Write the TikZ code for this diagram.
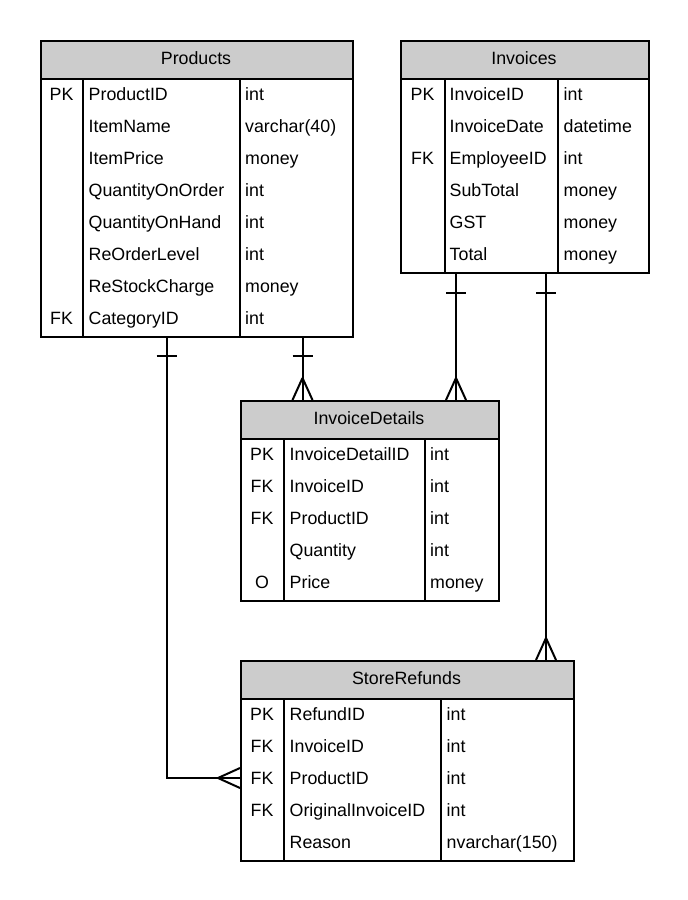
\documentclass[tikz,border=0pt]{standalone}
\usepackage{fontspec}
\setmainfont{Liberation Sans}
\definecolor{hdr}{HTML}{CCCCCC}
\tikzset{
  tbox/.style={draw=black, line width=2pt, anchor=north west, inner sep=0pt},
  hbox/.style={tbox, fill=hdr},
  cell/.style={inner sep=0pt, text height=12.7pt, text depth=0pt},
  keycell/.style={cell, anchor=center},
  namecell/.style={cell, anchor=west},
  conn/.style={line width=2pt, line cap=butt},
}
\begin{document}
\begin{tikzpicture}[x=1pt, y=-1pt, font=\fontsize{17.8}{21}\selectfont]
\useasboundingbox (0,0) rectangle (688,900);

% ---------- Products ----------
\node[hbox, minimum width=312pt, minimum height=38pt] (prodH) at (40,40) {};
\node[tbox, minimum width=312pt, minimum height=258pt] (prodB) at (40,78) {};
\node[cell] (prodT) at (196,58.5) {Products};
\draw[conn] (83,78) -- (83,336);
\draw[conn] (240,78) -- (240,336);
\foreach \k/\n/\t [count=\i from 0] in {PK/ProductID/int, /ItemName/varchar(40), /ItemPrice/money, /QuantityOnOrder/int, /QuantityOnHand/int, /ReOrderLevel/int, /ReStockCharge/money, FK/CategoryID/int}{
  \node[keycell] (prodK\i) at (61.5,{94.5+32*\i}) {\k};
  \node[namecell] (prodN\i) at (88.5,{94.5+32*\i}) {\n};
  \node[namecell] (prodY\i) at (245,{94.5+32*\i}) {\t};
}

% ---------- Invoices ----------
\node[hbox, minimum width=248pt, minimum height=38pt] (invH) at (400,40) {};
\node[tbox, minimum width=248pt, minimum height=194pt] (invB) at (400,78) {};
\node[cell] (invT) at (524,58.5) {Invoices};
\draw[conn] (445,78) -- (445,272);
\draw[conn] (558,78) -- (558,272);
\foreach \k/\n/\t [count=\i from 0] in {PK/InvoiceID/int, /InvoiceDate/datetime, FK/EmployeeID/int, /SubTotal/money, /GST/money, /Total/money}{
  \node[keycell] (invK\i) at (422.5,{94.5+32*\i}) {\k};
  \node[namecell] (invN\i) at (449.5,{94.5+32*\i}) {\n};
  \node[namecell] (invY\i) at (563.5,{94.5+32*\i}) {\t};
}

% ---------- InvoiceDetails ----------
\node[hbox, minimum width=258pt, minimum height=38pt] (idH) at (240,400) {};
\node[tbox, minimum width=258pt, minimum height=162pt] (idB) at (240,438) {};
\node[cell] (idT) at (369,418.5) {InvoiceDetails};
\draw[conn] (284,438) -- (284,600);
\draw[conn] (425,438) -- (425,600);
\foreach \k/\n/\t [count=\i from 0] in {PK/InvoiceDetailID/int, FK/InvoiceID/int, FK/ProductID/int, /Quantity/int, O/Price/money}{
  \node[keycell] (idK\i) at (262,{454.5+32*\i}) {\k};
  \node[namecell] (idN\i) at (289.5,{454.5+32*\i}) {\n};
  \node[namecell] (idY\i) at (430,{454.5+32*\i}) {\t};
}

% ---------- StoreRefunds ----------
\node[hbox, minimum width=333pt, minimum height=38pt] (srH) at (240,660) {};
\node[tbox, minimum width=333pt, minimum height=162pt] (srB) at (240,698) {};
\node[cell] (srT) at (406.5,678.5) {StoreRefunds};
\draw[conn] (284,698) -- (284,860);
\draw[conn] (441,698) -- (441,860);
\foreach \k/\n/\t [count=\i from 0] in {PK/RefundID/int, FK/InvoiceID/int, FK/ProductID/int, FK/OriginalInvoiceID/int, /Reason/nvarchar(150)}{
  \node[keycell] (srK\i) at (262,{714.5+32*\i}) {\k};
  \node[namecell] (srN\i) at (289.5,{714.5+32*\i}) {\n};
  \node[namecell] (srY\i) at (446.5,{714.5+32*\i}) {\t};
}

% ---------- connector end points ----------
\coordinate (c1s) at (302.5,336);  \coordinate (c1e) at (302.5,400);
\coordinate (c2s) at (166.5,336);  \coordinate (c2b) at (166.5,778); \coordinate (c2e) at (240,778);
\coordinate (c3s) at (456,272);    \coordinate (c3e) at (456,400);
\coordinate (c4s) at (546,272);    \coordinate (c4e) at (546,660);

% Products -> InvoiceDetails
\draw[conn] (c1s) -- (c1e);
\draw[conn] ([xshift=-10pt,yshift=-20pt]c1s) -- ([xshift=10pt,yshift=-20pt]c1s);
\draw[conn] ([yshift=22pt]c1e) -- ([xshift=-10pt]c1e);
\draw[conn] ([yshift=22pt]c1e) -- ([xshift=10pt]c1e);

% Products -> StoreRefunds
\draw[conn] (c2s) -- (c2b) -- (c2e);
\draw[conn] ([xshift=-10pt,yshift=-20pt]c2s) -- ([xshift=10pt,yshift=-20pt]c2s);
\draw[conn] ([xshift=-22pt]c2e) -- ([yshift=10pt]c2e);
\draw[conn] ([xshift=-22pt]c2e) -- ([yshift=-10pt]c2e);

% Invoices -> InvoiceDetails
\draw[conn] (c3s) -- (c3e);
\draw[conn] ([xshift=-10pt,yshift=-21pt]c3s) -- ([xshift=10pt,yshift=-21pt]c3s);
\draw[conn] ([yshift=22pt]c3e) -- ([xshift=-10pt]c3e);
\draw[conn] ([yshift=22pt]c3e) -- ([xshift=10pt]c3e);

% Invoices -> StoreRefunds
\draw[conn] (c4s) -- (c4e);
\draw[conn] ([xshift=-10pt,yshift=-21pt]c4s) -- ([xshift=10pt,yshift=-21pt]c4s);
\draw[conn] ([yshift=22pt]c4e) -- ([xshift=-10pt]c4e);
\draw[conn] ([yshift=22pt]c4e) -- ([xshift=10pt]c4e);
\end{tikzpicture}
\end{document}
